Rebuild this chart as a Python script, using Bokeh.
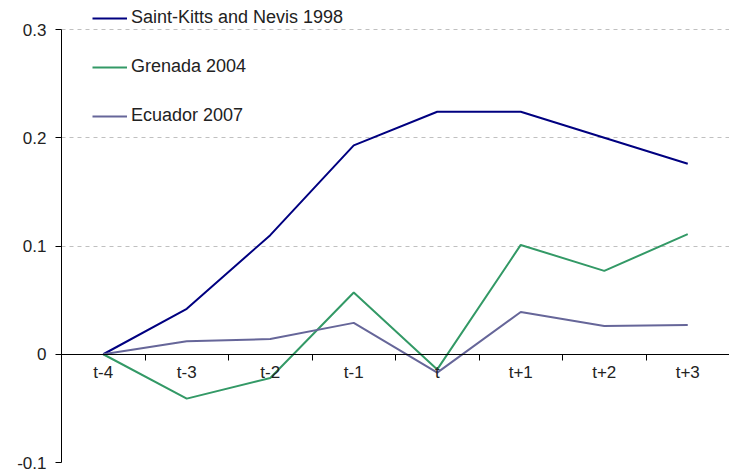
from bokeh.plotting import figure
from bokeh.models import Range1d, FixedTicker, Legend, LegendItem, ColumnDataSource
from bokeh.embed import file_html
from bokeh.resources import INLINE

categories = ["t-4", "t-3", "t-2", "t-1", "t", "t+1", "t+2", "t+3"]
saint_kitts = [0.0, 0.042, 0.110, 0.193, 0.224, 0.224, 0.200, 0.176]
grenada = [0.0, -0.041, -0.022, 0.057, -0.014, 0.101, 0.077, 0.111]
ecuador = [0.0, 0.012, 0.014, 0.029, -0.017, 0.039, 0.026, 0.027]
series_names = ["Saint-Kitts and Nevis 1998", "Grenada 2004", "Ecuador 2007"]
series_colors = ["#000080", "#339966", "#666699"]
y_ticks = [-0.1, 0, 0.1, 0.2, 0.3]
y_tick_labels = ["-0.1", "0", "0.1", "0.2", "0.3"]

x = [i + 0.5 for i in range(len(categories))]
boundaries = [i for i in range(1, len(categories))]

FONT = "Liberation Sans"
FS = "17px"

p = figure(width=729, height=469, output_backend="svg", toolbar_location=None,
           x_range=Range1d(0, len(categories)),
           y_range=Range1d(min(y_ticks), max(y_ticks) + 0.0268),
           min_border_left=61, min_border_right=0, min_border_top=0,
           min_border_bottom=7)
p.outline_line_color = None
p.background_fill_color = "white"

# x axis crossing at zero
p.xaxis.fixed_location = 0
p.xaxis.ticker = FixedTicker(ticks=x, minor_ticks=boundaries)
p.xaxis.major_label_overrides = {xv: c for xv, c in zip(x, categories)}
p.xaxis.major_tick_line_color = None
p.xaxis.major_tick_out = 6
p.xaxis.major_tick_in = 0
p.xaxis.minor_tick_out = 6
p.xaxis.minor_tick_in = 0
p.xaxis.minor_tick_line_color = "black"
p.xaxis.axis_line_color = "black"
p.xaxis.major_label_standoff = 3
p.xaxis.major_label_text_font = FONT
p.xaxis.major_label_text_font_size = FS
p.xaxis.major_label_text_color = "#222222"
p.xgrid.visible = False

# y axis
p.yaxis.bounds = (min(y_ticks), max(y_ticks))
p.yaxis.ticker = FixedTicker(ticks=y_ticks, minor_ticks=[])
p.yaxis.major_label_overrides = {t: l for t, l in zip(y_ticks, y_tick_labels)}
p.yaxis.major_tick_out = 6
p.yaxis.major_tick_in = 0
p.yaxis.axis_line_color = "black"
p.yaxis.major_tick_line_color = "black"
p.yaxis.major_label_standoff = 9
p.yaxis.major_label_text_font = FONT
p.yaxis.major_label_text_font_size = FS
p.yaxis.major_label_text_color = "#222222"
p.ygrid.ticker = FixedTicker(ticks=[t for t in y_ticks if t != 0])
p.ygrid.grid_line_color = "#c0c0c0"
p.ygrid.grid_line_dash = "4 4"
p.ygrid.grid_line_width = 1

items = []
for name, vals, col in zip(series_names, [saint_kitts, grenada, ecuador], series_colors):
    src = ColumnDataSource(dict(x=x, y=vals))
    r = p.line("x", "y", source=src, line_color=col, line_width=2)
    items.append(LegendItem(label=name, renderers=[r]))

legend = Legend(items=items, location=(31, 336), orientation="vertical",
                glyph_width=35, glyph_height=20, label_height=20,
                label_standoff=4, spacing=28, padding=0, margin=0,
                border_line_color=None, background_fill_alpha=0,
                label_text_font=FONT, label_text_font_size="18px",
                label_text_color="#222222")
p.add_layout(legend, "center")

open("out.html", "w").write(file_html(p, INLINE))
